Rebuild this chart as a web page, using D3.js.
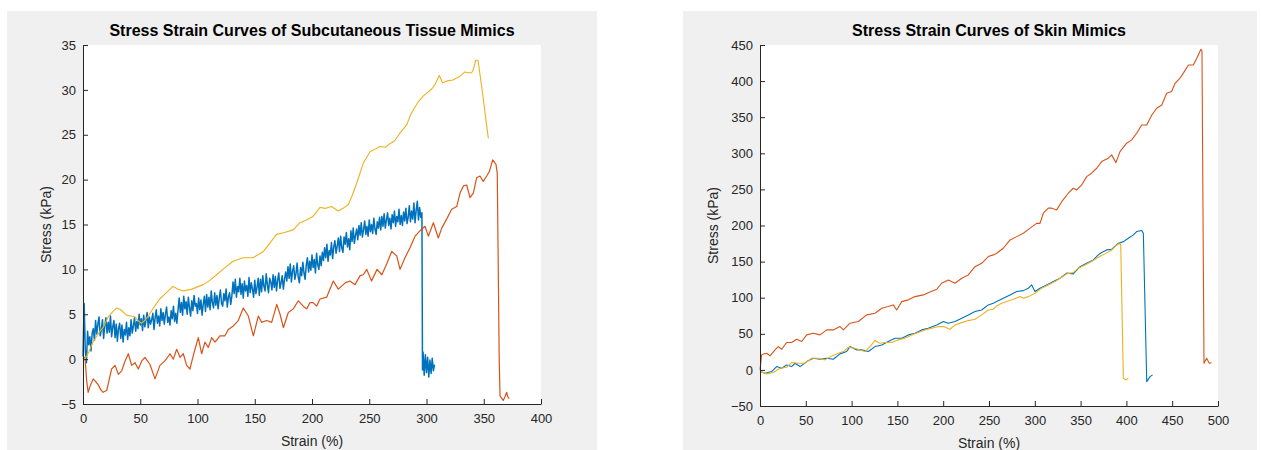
<!DOCTYPE html>
<html>
<head>
<meta charset="utf-8">
<script src="https://cdn.jsdelivr.net/npm/d3@7"></script>
<style>
body { margin: 0; background: #fff; }
svg { display: block; }
text { font-family: "Liberation Sans", Arial, Helvetica, sans-serif; }
</style>
</head>
<body>
<svg id="chart" width="1262" height="450"></svg>
<script>
// Left plot: subcutaneous tissue mimics, [strain %, stress kPa]
var subBlue = [
[0,0.3],[1,6.2],[2,1.0],[3,-0.4],[4,3.1],[5,1.6],[6,2.5],[7,0.9],[8,2.9],[9,3.4],
[10,2.1],[11,4.3],[12,2.8],[13,3.9],[14,4.7],[15,2.6],[16,3.2],[17,4.4],[18,2.3],[19,3.7],
[20,4.6],[21,2.9],[22,4.1],[23,3.0],[24,4.8],[25,2.5],[26,3.6],[27,4.3],[28,2.4],[29,3.9],
[30,2.0],[31,3.4],[32,4.0],[33,2.3],[34,3.8],[35,1.9],[36,3.3],[37,2.7],[38,4.1],[39,2.2],
[40,3.5],[41,2.6],[42,4.4],[43,2.9],[44,3.7],[45,4.6],[46,3.1],[47,4.2],[48,3.4],[49,5.0],
[50,3.8],[51,4.5],[52,3.2],[53,4.9],[54,3.6],[55,4.3],[56,5.2],[57,3.5],[58,4.7],[59,3.9],
[60,4.4],[61,5.1],[62,3.3],[63,4.6],[64,5.5],[65,4.0],[66,4.8],[67,3.7],[68,5.6],[69,4.3],
[70,5.2],[71,3.9],[72,5.0],[73,5.8],[74,4.1],[75,4.7],[76,3.8],[77,5.4],[78,4.5],[79,5.9],
[80,4.2],[81,5.1],[82,4.0],[83,5.5],[84,6.8],[85,5.2],[86,6.3],[87,4.9],[88,7.0],[89,5.6],
[90,6.4],[91,5.0],[92,6.9],[93,5.7],[94,4.8],[95,6.5],[96,5.4],[97,7.1],[98,5.9],[99,6.2],
[100,5.1],[101,6.8],[102,5.5],[103,6.6],[104,4.9],[105,6.1],[106,7.0],[107,5.3],[108,7.2],[109,5.8],
[110,6.9],[111,5.5],[112,7.6],[113,6.3],[114,5.7],[115,7.4],[116,6.0],[117,7.1],[118,5.6],[119,6.8],
[120,7.7],[121,6.2],[122,5.9],[123,7.3],[124,6.5],[125,7.8],[126,5.8],[127,6.9],[128,7.4],[129,6.1],
[130,7.0],[131,8.6],[132,7.3],[133,8.9],[134,6.9],[135,8.1],[136,7.5],[137,9.0],[138,7.2],[139,8.4],
[140,6.8],[141,8.7],[142,7.6],[143,8.2],[144,7.0],[145,9.1],[146,7.4],[147,8.5],[148,7.8],[149,6.9],
[150,8.8],[151,7.3],[152,8.0],[153,9.0],[154,7.1],[155,8.9],[156,7.5],[157,9.3],[158,8.1],[159,7.6],
[160,9.5],[161,8.3],[162,7.4],[163,9.0],[164,8.6],[165,7.7],[166,9.4],[167,8.0],[168,9.2],[169,7.6],
[170,8.8],[171,9.6],[172,7.9],[173,8.5],[174,9.3],[175,7.8],[176,8.9],[177,9.7],[178,8.7],[179,10.3],
[180,9.0],[181,10.6],[182,8.6],[183,9.8],[184,10.4],[185,8.9],[186,9.5],[187,10.7],[188,9.1],[189,8.5],
[190,10.2],[191,9.3],[192,10.8],[193,9.6],[194,8.9],[195,10.5],[196,11.3],[197,9.7],[198,10.9],[199,9.9],
[200,11.6],[201,10.2],[202,11.1],[203,9.6],[204,11.8],[205,10.5],[206,10.0],[207,11.5],[208,10.4],[209,11.9],
[210,11.0],[211,12.4],[212,11.3],[213,12.8],[214,10.9],[215,12.1],[216,11.6],[217,13.0],[218,11.2],[219,12.5],
[220,13.2],[221,11.8],[222,12.6],[223,13.5],[224,12.0],[225,13.7],[226,12.4],[227,11.9],[228,13.6],[229,12.8],
[230,14.1],[231,12.5],[232,13.4],[233,12.2],[234,14.3],[235,13.1],[236,14.6],[237,12.9],[238,13.8],[239,14.5],
[240,13.3],[241,14.9],[242,13.8],[243,15.2],[244,13.6],[245,14.4],[246,15.4],[247,13.9],[248,14.8],[249,13.7],
[250,15.5],[251,14.2],[252,15.0],[253,14.0],[254,15.7],[255,14.5],[256,13.9],[257,15.3],[258,14.6],[259,15.8],
[260,14.4],[261,15.9],[262,14.8],[263,16.2],[264,14.6],[265,15.5],[266,16.3],[267,14.9],[268,15.7],[269,14.5],
[270,16.1],[271,15.2],[272,16.5],[273,14.8],[274,15.9],[275,15.3],[276,16.7],[277,15.0],[278,16.0],[279,14.9],
[280,16.4],[281,15.4],[282,16.8],[283,15.1],[284,15.8],[285,17.1],[286,15.3],[287,16.5],[288,15.6],[289,17.4],
[290,15.2],[291,16.6],[292,17.6],[293,15.5],[294,16.9],[295,15.8],[296,16.3],[296.5,-1.2],[297,0.8],[298,-1.8],
[299,0.5],[300,-1.5],[301,0.2],[302,-2.0],[303,-0.1],[304,-1.6],[305,0.1],[306,-1.3],[307,-0.6]
];
var subOrange = [
[0,0],[1.7,0.2],[3.2,-2.4],[4.5,-3.7],[6.5,-2.9],[8.9,-2.2],[11,-2.5],[13,-2.8],[15.5,-3.4],[17.5,-3.7],[20.7,-3.5],[23,-2.2],
[25,-1.1],[28,-0.7],[30.9,-1.7],[33.8,-1.3],[36.5,-0.3],[39.6,0.6],[42.5,-0.7],[45.4,-0.4],[48.3,-1.1],[51.3,-0.2],[54.1,0.2],[58.5,-0.6],
[62.9,-2.2],[67.2,-0.7],[71.6,-0.2],[76,0.6],[78.9,0],[81.8,1.1],[84.7,0.2],[87.6,0.6],[90.5,-0.7],[93.4,-1.1],[96.3,0.4],[100.7,2.4],
[103.6,0.6],[106.5,1.9],[109.4,1.3],[112.4,2.4],[115.3,1.9],[119.6,2.6],[124,2.6],[126.9,3.3],[131.3,3.7],[135.6,4.3],[140,5.7],[144.4,4.8],
[148.8,2.6],[153.1,4.8],[156,4.1],[160.4,4.3],[164.8,4.1],[169.2,6.1],[172.1,5],[175,3.5],[179.3,5.2],[183.7,5.6],[188,6.5],[192.4,5.9],
[195.4,5.6],[198.3,6.3],[201,6.3],[204,5.9],[207,6.7],[212.8,6.9],[218.6,8.7],[223,7.8],[229,8.5],[233,8.7],[237.6,8.3],[242,9.3],
[244.8,9.4],[247.8,10],[252,8.7],[256.8,10],[261,9.4],[265.2,10.6],[269.6,12],[274,11.5],[276.9,10],[281.2,11.3],[285.6,12.4],[290,13.7],
[294.3,14.3],[298.7,14.8],[301.6,13.7],[306,15.2],[310.3,13.5],[313.3,14.6],[317.6,15.6],[322,16.7],[326.4,17],[329.3,18.5],[332.2,19.3],[335.1,19.4],
[338,18],[340.9,18.5],[343.8,20.2],[346.7,20.4],[349.6,19.8],[352.6,20.4],[354.9,20.9],[357.8,22.2],[360.7,21.7],[361.8,20.7],[363.5,0],[364.2,-4.1],
[367,-4.6],[368.5,-4.2],[370,-3.7],[371,-4.2],[372.3,-4.4]
];
var subYellow = [
[0,0],[1.7,0],[5,0.8],[8.7,1.9],[14.8,3.1],[18,3.6],[22,4.7],[26,5.3],[29.4,5.7],[33,5.5],[38,4.9],[42,4.8],
[45.4,4.7],[48,4.3],[51,4.0],[54,4.3],[57,4.8],[62,5.8],[67,6.7],[72,7.3],[78.6,8.1],[83,7.8],[87.3,7.6],[95,7.8],
[105,8.3],[111,8.8],[116.7,9.4],[124,10.2],[131,10.9],[140,11.3],[148.6,11.3],[157.6,12],[163,12.9],[169,13.9],[176,14.1],[183.6,14.4],
[189.5,15.2],[195,15.5],[201,15.9],[207,16.9],[212,16.8],[217,17],[223,16.5],[227,16.8],[231.6,17.2],[235,18.2],[239,19.6],[245,21.9],
[250.7,23.1],[255,23.4],[259.4,23.7],[264,23.6],[268,24],[272,24.3],[276.9,25.2],[282.7,26.1],[286,27.2],[290,28.1],[293,28.7],[297,29.3],
[304.6,30.1],[307.4,30.6],[311.2,31.6],[314,30.8],[318,31],[323,31.1],[329,31.5],[333.6,32],[336,31.9],[339.4,31.9],[341,32.3],[343,33.3],
[345,33.3],[349,29.6],[354,24.6]
];

// Right plot: skin mimics, [strain %, stress kPa]
var skinBlue = [
[0,-2.3],[5.5,-4.6],[12.7,-2.3],[18.2,4.6],[23.7,2.3],[29,6.9],[34.6,4.6],[38.2,9.2],[43.7,4.6],[51,11.5],[58.2,16.2],[65.5,14.8],
[72.8,16.2],[80,14.8],[87.3,22.2],[94.6,25.4],[98.3,32.3],[105.6,27.7],[111,27.7],[118.3,25.4],[125.5,32.3],[132.9,34.6],[140,39.3],[147.4,43.9],
[154.7,43.9],[162,48.5],[169.2,50.8],[176.5,55.4],[183.7,57.7],[192.9,62.3],[200.2,67],[205.6,64.7],[212.9,67],[220.2,71.6],[227.4,76.2],[234.7,80.8],
[242,83],[249.2,90],[254.7,92.4],[258.4,94.6],[265.6,99.3],[273,103.9],[280.2,108.5],[287.5,109.8],[293,113.2],[296.6,117.7],[300.2,108.5],[305.7,113.2],
[313,117.7],[320.2,122.3],[327.5,127],[334.8,134],[342,133],[349.3,143],[356.6,147.7],[363.9,152.4],[369.3,159.3],[373,162.5],[378.5,166.2],[384,167.1],
[391.2,175.5],[396.7,177.7],[402.1,182.4],[407.6,187],[411.2,191.6],[416.7,193],[418.5,189.3],[422.2,-16.2],[425.8,-9.3],[428.6,-6.9]
];
var skinOrange = [
[0,0],[1.8,20.8],[4,22],[7.3,23],[11,19.4],[16.4,27.7],[20,32.3],[23.7,28.6],[29,37.9],[34.6,37.9],[40,42.5],[45.5,39.3],
[51,48.5],[58.2,50.8],[65.5,48.5],[72.8,55.4],[80,55.4],[87.3,60],[91,55.4],[98.3,64.7],[107.3,67],[116.5,76.2],[125.5,78.5],[132.9,85.4],
[140,87.7],[145.5,90],[149.2,83],[154.7,94.6],[162,97],[169.2,101.5],[178.3,103.9],[183.7,107],[192.9,111.7],[198.3,120],[205.6,124.6],[212.9,120],
[220.2,127],[227.4,131.6],[234.7,143],[242,147.7],[249.2,157],[254.7,159.3],[258.4,161.6],[265.6,168.5],[273,180],[280.2,184.6],[287.5,189.3],[294.8,196.3],
[302,203],[305.7,203],[309.3,217],[314.7,224],[318.4,224],[323.9,221.6],[329.4,233],[336.6,244.7],[342,251.6],[345.7,249.3],[351.2,256.2],[356.6,267.7],
[362,272.4],[367.6,279.3],[373,288.5],[380.2,293.2],[383.9,297.8],[388.6,287.1],[393,302.4],[400.3,314],[405.8,318.6],[411.2,327.8],[416.7,339.3],[422.2,339.3],
[427.6,352.7],[433,362.4],[438.6,367],[444,383.2],[449.4,385.5],[453.1,397],[458.5,404],[462.2,411],[467.7,422.4],[473.1,422.4],[476.8,431.7],[481.4,444],
[482.5,442],[484.7,9.2],[487.6,16.2],[490.5,9.2],[493,10]
];
var skinYellow = [
[0,-2.3],[7.3,-5.5],[14.6,-3.7],[21.8,2.3],[29,3.7],[34.6,10.2],[41.8,9.2],[49.1,9.2],[56.4,16.2],[63.6,16.2],[71,13.9],[78.3,19.4],
[85.5,23],[91,25.4],[96.4,31.4],[103.7,30],[109.2,27.7],[114.6,25.4],[120.1,32.3],[125.5,40.6],[131,37],[136.5,37.9],[143.8,37.9],[151,41.6],
[158.3,43.9],[165.6,48.5],[172.8,51.7],[180.1,55.4],[187.4,57.7],[194.7,60],[200.2,60],[207.4,56.3],[212.9,62.3],[220.2,65.5],[227.4,68.3],[234.7,70.2],
[242,76.2],[249.2,83],[254.7,84],[258.4,88.6],[263.9,92.4],[269.3,94.6],[276.5,97.9],[283.8,101.5],[287.5,99.3],[293,101.5],[300.2,106.2],[307.5,113.2],
[314.7,117.7],[322,122.3],[327.5,127],[334.8,133],[342,134.8],[347.5,140.9],[354.8,145.4],[362,150],[369.3,156.1],[376.6,160.7],[384,166.2],[389.4,173.1],
[393,175.5],[393.8,172],[396.7,-11.5],[399.6,-13.9],[402.1,-11.5]
];

// Axis ticks
var subXTicks = [0, 50, 100, 150, 200, 250, 300, 350, 400];
var subYTicks = [-5, 0, 5, 10, 15, 20, 25, 30, 35];
var skinXTicks = [0, 50, 100, 150, 200, 250, 300, 350, 400, 450, 500];
var skinYTicks = [-50, 0, 50, 100, 150, 200, 250, 300, 350, 400, 450];

// MATLAB default line colours
var colors = ["#0072BD", "#D95319", "#EDB120"];

var svg = d3.select("#chart");

function drawPanel(p) {
  // gray figure background
  svg.append("rect")
    .attr("x", p.bg[0]).attr("y", p.bg[1])
    .attr("width", p.bg[2]).attr("height", p.bg[3])
    .attr("fill", "#f0f0f0");

  var x = d3.scaleLinear().domain(p.xDomain).range([p.left, p.right]);
  var y = d3.scaleLinear().domain(p.yDomain).range([p.bottom, p.top]);

  // white axes area
  svg.append("rect")
    .attr("x", p.left).attr("y", p.top)
    .attr("width", p.right - p.left).attr("height", p.bottom - p.top)
    .attr("fill", "#fff");

  var line = d3.line().x(d => x(d[0])).y(d => y(d[1]));

  svg.append("g").selectAll("path")
    .data(p.series)
    .enter()
    .append("path")
    .attr("d", d => line(d))
    .attr("fill", "none")
    .attr("stroke", (d, i) => colors[i])
    .attr("stroke-width", (d, i) => p.widths[i])
    .attr("stroke-linejoin", "round");

  // MATLAB style: ticks point inwards
  var xAxis = d3.axisBottom(x).tickValues(p.xTicks).tickSizeInner(-5).tickSizeOuter(0).tickPadding(10);
  var yAxis = d3.axisLeft(y).tickValues(p.yTicks).tickSizeInner(-5).tickSizeOuter(0).tickPadding(7);

  var gx = svg.append("g")
    .attr("transform", "translate(0," + p.bottom + ")")
    .call(xAxis);
  var gy = svg.append("g")
    .attr("transform", "translate(" + p.left + ",0)")
    .call(yAxis);

  [gx, gy].forEach(function(a) {
    a.selectAll("path, line").attr("stroke", "#262626");
    a.selectAll("text")
      .attr("fill", "#262626")
      .style("font-size", "13px")
      .style("font-family", "'Liberation Sans', Arial, sans-serif");
  });

  var cx = (p.left + p.right) / 2;

  svg.append("text")
    .attr("x", cx).attr("y", 36)
    .attr("text-anchor", "middle")
    .attr("font-size", "16px")
    .attr("font-weight", "bold")
    .attr("fill", "#000")
    .text(p.title);

  svg.append("text")
    .attr("x", cx).attr("y", p.bottom + 42)
    .attr("text-anchor", "middle")
    .attr("font-size", "14px")
    .attr("fill", "#262626")
    .text("Strain (%)");

  svg.append("text")
    .attr("transform", "translate(" + (p.left - p.yLabelGap) + "," + ((p.top + p.bottom) / 2) + ") rotate(-90)")
    .attr("text-anchor", "middle")
    .attr("font-size", "14px")
    .attr("fill", "#262626")
    .text("Stress (kPa)");
}

drawPanel({
  bg: [7, 11, 590, 439],
  left: 83, right: 541, top: 45, bottom: 404,
  xDomain: [0, 400], yDomain: [-5, 35],
  xTicks: subXTicks, yTicks: subYTicks, yLabelGap: 32,
  title: "Stress Strain Curves of Subcutaneous Tissue Mimics",
  series: [subBlue, subOrange, subYellow],
  widths: [1.5, 1.2, 1.1]
});

drawPanel({
  bg: [683, 11, 574, 439],
  left: 760, right: 1218, top: 45, bottom: 406,
  xDomain: [0, 500], yDomain: [-50, 450],
  xTicks: skinXTicks, yTicks: skinYTicks, yLabelGap: 42,
  title: "Stress Strain Curves of Skin Mimics",
  series: [skinBlue, skinOrange, skinYellow],
  widths: [1.1, 1.1, 1.1]
});
</script>
</body>
</html>
